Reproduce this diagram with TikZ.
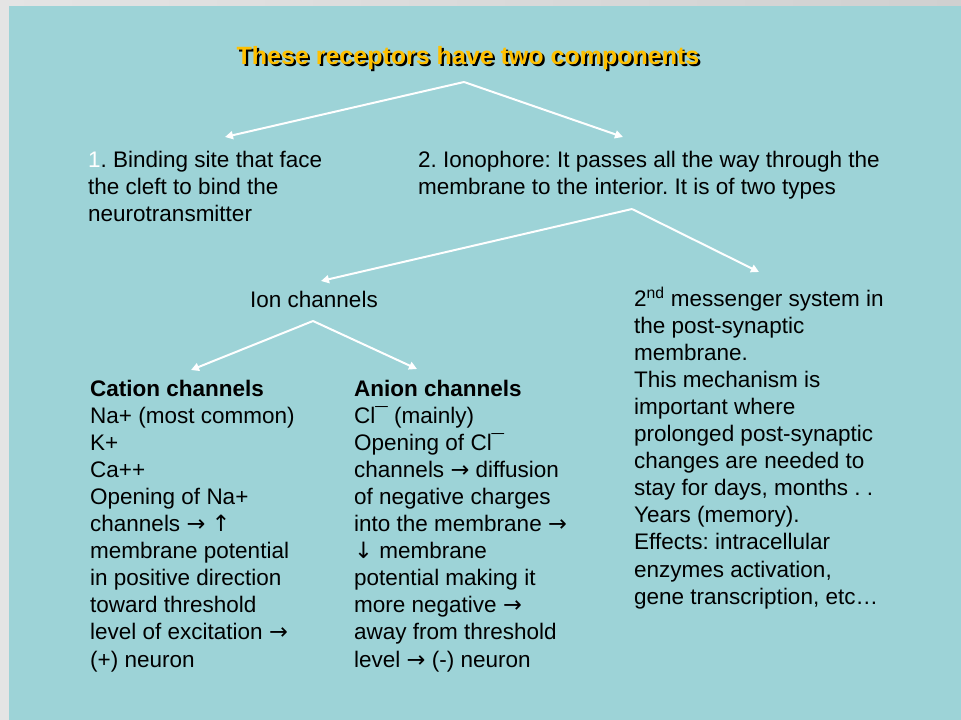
\documentclass[tikz,border=0pt]{standalone}
\usepackage{fontspec}
\setmainfont{Liberation Sans}
\newfontfamily\symfont{DejaVu Sans}
\usetikzlibrary{arrows.meta}
\definecolor{panel}{HTML}{9DD3D7}
\definecolor{gold}{HTML}{FFC000}
\definecolor{edgegrey}{HTML}{E4E4E4}
\definecolor{edgegreyr}{HTML}{D0D0D0}
\newcommand\txtblk[1]{\vtop{\hsize=600pt\parindent=0pt\parskip=0pt\frenchspacing\raggedright\leavevmode#1\par}}
\newcommand\ra{{\symfont →}}
\newcommand\uarr{{\symfont ↑}}
\newcommand\darr{{\symfont ↓}}
\newcommand\shadowtext[1]{\makebox[0pt][l]{\hspace{2.2pt}\raisebox{-2.2pt}{\color{black}#1}}\textcolor{gold}{#1}}
\begin{document}
\begin{tikzpicture}[x=1pt,y=-1pt,
  body/.style={inner sep=0pt, anchor=base west, font=\fontsize{22.5}{27.1}\selectfont, text=black},
  ttl/.style={inner sep=0pt, anchor=base, font=\bfseries\fontsize{25}{30}\selectfont},
  conn/.style={white, line width=2pt, -{Triangle[width=8pt,length=8pt]}}]
\useasboundingbox (0,0) rectangle (961,720);
\shade[left color=edgegrey, right color=edgegreyr] (0,0) rectangle (961,720);
\fill[panel] (9,6) rectangle (961,720);

% title with shadow
\node[ttl] (title) at (468,64) {\shadowtext{These receptors have two components}};

% level 1
\node[body] (bind) at (88,167) {\txtblk{{\color{white}1}. Binding site that face\\the cleft to bind the\\neurotransmitter}};
\node[body] (iono) at (418,167) {\txtblk{2. Ionophore: It passes all the way through the\\membrane to the interior. It is of two types}};

% level 2
\node[body] (ion) at (250,307) {Ion channels};
\node[body] (msg) at (634,306) {\txtblk{2\textsuperscript{nd} messenger system in\\the post-synaptic\\membrane.\\This mechanism is\\important where\\prolonged post-synaptic\\changes are needed to\\stay for days, months . .\\Years (memory).\\Effects: intracellular\\enzymes activation,\\gene transcription, etc…}};

% level 3
\node[body] (cat) at (90,396) {\txtblk{\textbf{Cation channels}\\Na+ (most common)\\K+\\Ca++\\Opening of Na+\\channels \ra{} \uarr\\membrane potential\\in positive direction\\toward threshold\\level of excitation \ra\\(+) neuron}};
\node[body] (ani) at (354,396) {\txtblk{\textbf{Anion channels}\\Cl¯ (mainly)\\Opening of Cl¯\\channels \ra{} diffusion\\of negative charges\\into the membrane \ra\\\darr{} membrane\\potential making it\\more negative \ra\\away from threshold\\level \ra{} (-) neuron}};

% connector points
\coordinate (apex1) at (464,82);
\coordinate (tip1l) at (225,137);
\coordinate (tip1r) at (623,137);
\coordinate (apex2) at (632,209);
\coordinate (tip2l) at (321,281);
\coordinate (tip2r) at (759,272);
\coordinate (apex3) at (313,321);
\coordinate (tip3l) at (191,370);
\coordinate (tip3r) at (417,369);

\draw[conn] (apex1) -- (tip1l);
\draw[conn] (apex1) -- (tip1r);
\draw[conn] (apex2) -- (tip2l);
\draw[conn] (apex2) -- (tip2r);
\draw[conn] (apex3) -- (tip3l);
\draw[conn] (apex3) -- (tip3r);
\end{tikzpicture}
\end{document}
